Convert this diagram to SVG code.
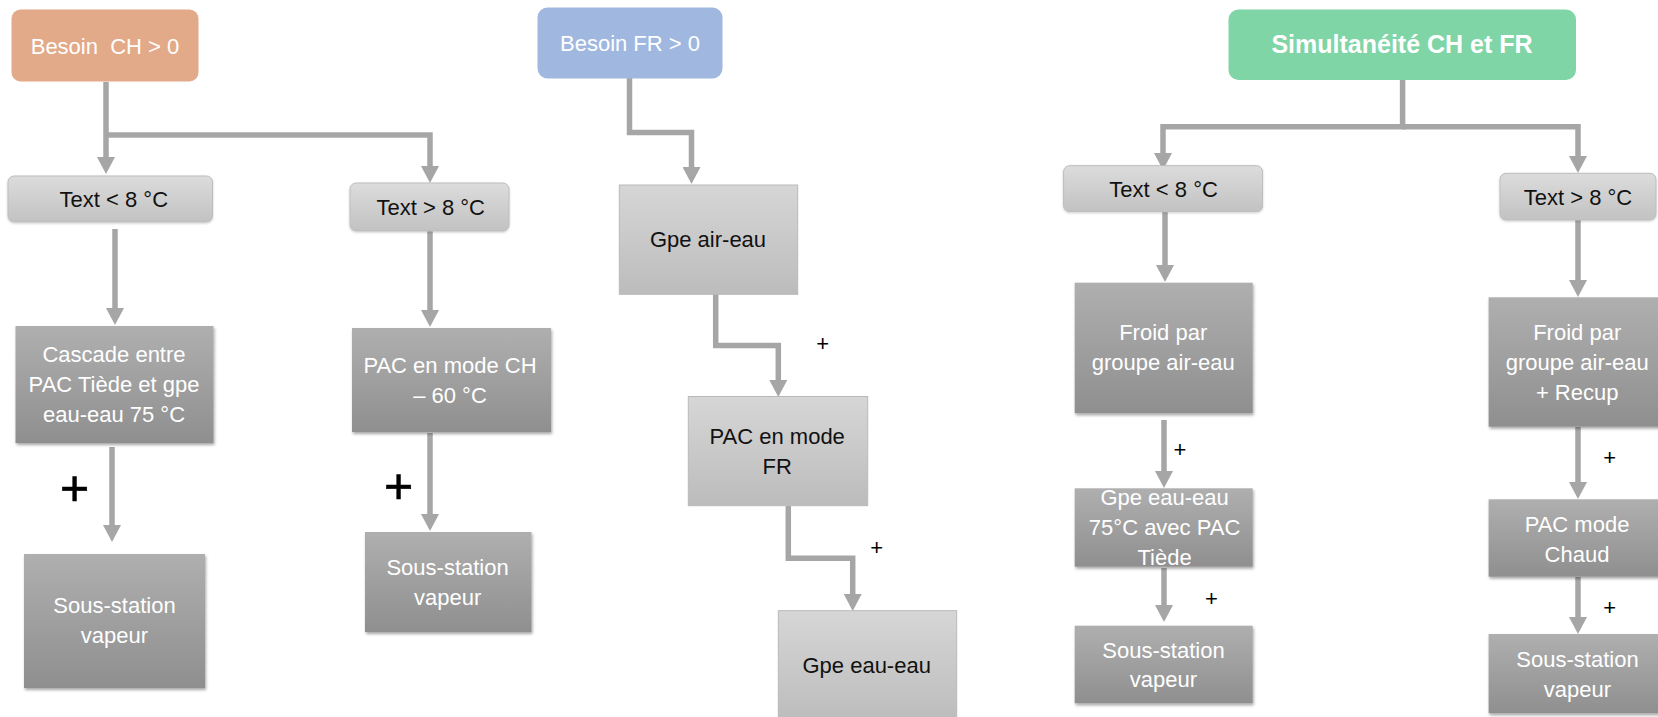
<svg xmlns="http://www.w3.org/2000/svg" width="1658" height="717" viewBox="0 0 1658 717">
<style>
.t{font-family:"Liberation Sans",Arial,sans-serif;font-size:22px;text-anchor:middle}
.w{fill:#ffffff}
.k{fill:#111111}
.dark{fill:url(#gDark);filter:url(#sh)}
.lite{fill:url(#gLite);stroke:#b9b9b9;stroke-width:1}
.cond{fill:url(#gCond);stroke:#bdbdbd;stroke-width:1;filter:url(#sh2)}
.c{fill:none;stroke:#a6a6a6;stroke-width:5.5;stroke-linejoin:miter;marker-end:url(#ah)}
.p{font-family:"Liberation Sans",Arial,sans-serif;font-size:22px;text-anchor:middle;fill:#000}
.pb{font-family:"Liberation Sans",Arial,sans-serif;font-size:50px;text-anchor:middle;fill:#000;stroke:#000;stroke-width:0.6}
</style>
<defs>
<linearGradient id="gDark" x1="0" y1="0" x2="0" y2="1"><stop offset="0" stop-color="#afafaf"/><stop offset="1" stop-color="#8f8f8f"/></linearGradient>
<linearGradient id="gLite" x1="0" y1="0" x2="0" y2="1"><stop offset="0" stop-color="#d6d6d6"/><stop offset="1" stop-color="#bcbcbc"/></linearGradient>
<linearGradient id="gCond" x1="0" y1="0" x2="0" y2="1"><stop offset="0" stop-color="#dcdcdc"/><stop offset="1" stop-color="#c2c2c2"/></linearGradient>
<filter id="sh" x="-10%" y="-10%" width="120%" height="125%"><feDropShadow dx="1" dy="2" stdDeviation="1.5" flood-color="#000" flood-opacity="0.35"/></filter>
<filter id="sh2" x="-10%" y="-10%" width="120%" height="130%"><feDropShadow dx="0" dy="1" stdDeviation="1" flood-color="#000" flood-opacity="0.2"/></filter>
<marker id="ah" viewBox="0 0 17 18" refX="0" refY="9" markerWidth="17" markerHeight="18" markerUnits="userSpaceOnUse" orient="auto"><path d="M0,0 L17,9 L0,18 z" fill="#a6a6a6"/></marker>
</defs>

<g id="connectors">
<path class="c" d="M106,82 V157"/>
<path class="c" d="M106,135 H430 V166"/>
<path class="c" d="M115,229 V308"/>
<path class="c" d="M430,231 V310"/>
<path class="c" d="M112,447 V525"/>
<path class="c" d="M430,433 V514"/>
<path class="c" d="M629.5,78 V132.5 H691.5 V167"/>
<path class="c" d="M715.7,294 V345.5 H778.3 V380"/>
<path class="c" d="M788.3,506 V558.3 H852.7 V594"/>
<path class="c" d="M1402.6,80 V126.7 H1163 V153"/>
<path class="c" d="M1402.6,126.7 H1578 V156"/>
<path class="c" d="M1165,212 V265"/>
<path class="c" d="M1578,220 V280"/>
<path class="c" d="M1164,420 V471"/>
<path class="c" d="M1164,568 V605"/>
<path class="c" d="M1578,427 V482"/>
<path class="c" d="M1578,577 V617"/>
</g>

<g id="n_besoin_ch"><rect x="11.5" y="9.5" width="187" height="72" rx="9" fill="#e2aa88"/><text class="t w" x="105" y="54.3" xml:space="preserve">Besoin  CH &gt; 0</text></g>
<g id="n_besoin_fr"><rect x="537.5" y="7.5" width="185" height="71" rx="10" fill="#a0b8e0"/><text class="t w" x="630" y="51">Besoin FR &gt; 0</text></g>
<g id="n_simultaneite"><rect x="1228.5" y="9.5" width="347.5" height="70.5" rx="10" fill="#7fd5a6"/><text class="t w" style="font-size:25px;font-weight:bold" x="1402" y="52.7">Simultanéité CH et FR</text></g>

<g id="n_text_lt8_ch"><rect class="cond" x="8" y="176" width="204.5" height="46" rx="6"/><text class="t k" x="113.8" y="207">Text &lt; 8 °C</text></g>
<g id="n_text_gt8_ch"><rect class="cond" x="350" y="183" width="159" height="48" rx="6"/><text class="t k" x="430.7" y="215">Text &gt; 8 °C</text></g>

<g id="n_cascade"><rect class="dark" x="15.5" y="326" width="198" height="117"/><text class="t w" x="114" y="361.7">Cascade entre</text><text class="t w" x="114" y="391.7">PAC Tiède et gpe</text><text class="t w" x="114" y="421.7">eau-eau 75 °C</text></g>
<g id="n_sous_station_1"><rect class="dark" x="24" y="554" width="181" height="134"/><text class="t w" x="114.5" y="613">Sous-station</text><text class="t w" x="114.5" y="643">vapeur</text></g>
<g id="n_pac_ch"><rect class="dark" x="352" y="328" width="199" height="104"/><text class="t w" x="450" y="373">PAC en mode CH</text><text class="t w" x="450" y="403">– 60 °C</text></g>
<g id="n_sous_station_2"><rect class="dark" x="365" y="532" width="166.5" height="100"/><text class="t w" x="447.6" y="575">Sous-station</text><text class="t w" x="447.6" y="605">vapeur</text></g>

<g id="n_gpe_air_eau"><rect class="lite" x="619.3" y="185" width="178.4" height="109.3"/><text class="t k" x="708" y="246.7">Gpe air-eau</text></g>
<g id="n_pac_fr"><rect class="lite" x="688.3" y="396.5" width="179.4" height="109.2"/><text class="t k" x="777.2" y="444">PAC en mode</text><text class="t k" x="777.2" y="474.3">FR</text></g>
<g id="n_gpe_eau_eau"><rect class="lite" x="778.3" y="610.7" width="178.4" height="112"/><text class="t k" x="866.7" y="673.3">Gpe eau-eau</text></g>

<g id="n_text_lt8_sim"><rect class="cond" x="1063.6" y="165.7" width="199" height="46" rx="6"/><text class="t k" x="1163.6" y="196.7">Text &lt; 8 °C</text></g>
<g id="n_text_gt8_sim"><rect class="cond" x="1500" y="173.3" width="156" height="46.7" rx="6"/><text class="t k" x="1578" y="205">Text &gt; 8 °C</text></g>

<g id="n_froid"><rect class="dark" x="1074.7" y="282.7" width="178" height="130.6"/><text class="t w" x="1163.2" y="340">Froid par</text><text class="t w" x="1163.2" y="370">groupe air-eau</text></g>
<g id="n_gpe_75"><rect class="dark" x="1074.7" y="488.3" width="178" height="78.4"/><text class="t w" x="1164.6" y="505">Gpe eau-eau</text><text class="t w" x="1164.6" y="535">75°C avec PAC</text><text class="t w" x="1164.6" y="565">Tiède</text></g>
<g id="n_sous_station_3"><rect class="dark" x="1074.7" y="625.7" width="178" height="77.6"/><text class="t w" x="1163.5" y="658.3">Sous-station</text><text class="t w" x="1163.5" y="687.3">vapeur</text></g>

<g id="n_froid_recup"><rect class="dark" x="1488.6" y="297.3" width="180" height="129.4"/><text class="t w" x="1577.2" y="340">Froid par</text><text class="t w" x="1577.2" y="370">groupe air-eau</text><text class="t w" x="1577.2" y="400">+ Recup</text></g>
<g id="n_pac_chaud"><rect class="dark" x="1488.6" y="499.3" width="180" height="77.4"/><text class="t w" x="1577" y="531.7">PAC mode</text><text class="t w" x="1577" y="561.7">Chaud</text></g>
<g id="n_sous_station_4"><rect class="dark" x="1488.6" y="634" width="180" height="79.3"/><text class="t w" x="1577.5" y="666.7">Sous-station</text><text class="t w" x="1577.5" y="696.7">vapeur</text></g>

<g id="plus_labels">
<text class="pb" x="74.7" y="504.6">+</text>
<text class="pb" x="398.5" y="502.6">+</text>
<text class="p" x="822.7" y="351">+</text>
<text class="p" x="876.7" y="554.5">+</text>
<text class="p" x="1180" y="457">+</text>
<text class="p" x="1211.5" y="606">+</text>
<text class="p" x="1609.6" y="464.5">+</text>
<text class="p" x="1609.6" y="614.5">+</text>
</g>
</svg>
